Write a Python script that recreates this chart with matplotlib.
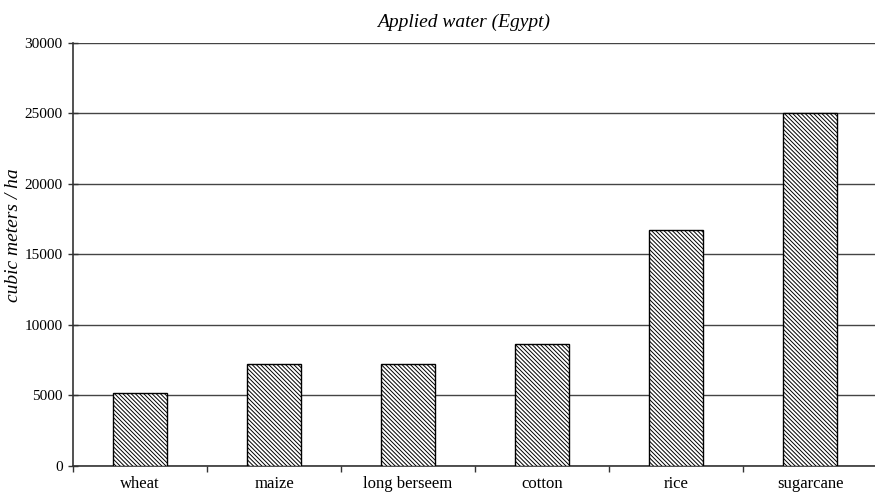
import matplotlib
matplotlib.use('agg')
import matplotlib.pyplot as plt
import numpy as np

crops = ['wheat', 'maize', 'long berseem', 'cotton', 'rice', 'sugarcane']
water = [5150, 7200, 7250, 8650, 16700, 25000]
yticks = [0, 5000, 10000, 15000, 20000, 25000, 30000]

plt.rcParams['font.family'] = ['Liberation Serif', 'DejaVu Serif']
plt.rcParams['hatch.linewidth'] = 0.7

fig = plt.figure(figsize=(8.75, 4.93), dpi=100)
ax = fig.add_axes([73 / 875, 27 / 493, 804 / 875, 423.5 / 493])

x = np.arange(len(crops))
ax.bar(x, water, width=0.4, color='white', edgecolor='black',
       linewidth=1.0, hatch='\\' * 8, zorder=3)

ax.set_xlim(-0.5, len(crops) - 0.5)
ax.set_ylim(0, 30000)
ax.set_yticks(yticks)
ax.set_yticklabels([str(v) for v in yticks], fontsize=11)

# ticks sit between categories, labels at the bar centres
ax.set_xticks(np.arange(len(crops) + 1) - 0.5)
ax.set_xticklabels([])
ax.set_xticks(x, minor=True)
ax.set_xticklabels(crops, minor=True, fontsize=12)
ax.tick_params(axis='x', which='minor', length=0, pad=7)
ax.tick_params(axis='x', which='major', direction='out', length=4, width=1, color='#333333')
ax.tick_params(axis='y', direction='inout', length=7, width=1, color='#333333', pad=4)

ax.grid(axis='y', color='#444444', linewidth=1.0, zorder=0)
ax.set_axisbelow(True)
for s in ['top', 'right']:
    ax.spines[s].set_visible(False)
for s in ['left', 'bottom']:
    ax.spines[s].set_color('#333333')
    ax.spines[s].set_linewidth(1.2)

ax.set_title('Applied water (Egypt)', fontsize=14, style='italic', pad=11, x=0.486)
ax.set_ylabel('cubic meters / ha', fontsize=14, style='italic')
ax.yaxis.set_label_coords(-0.064, 0.545)

fig.savefig('out.png', dpi=100)
